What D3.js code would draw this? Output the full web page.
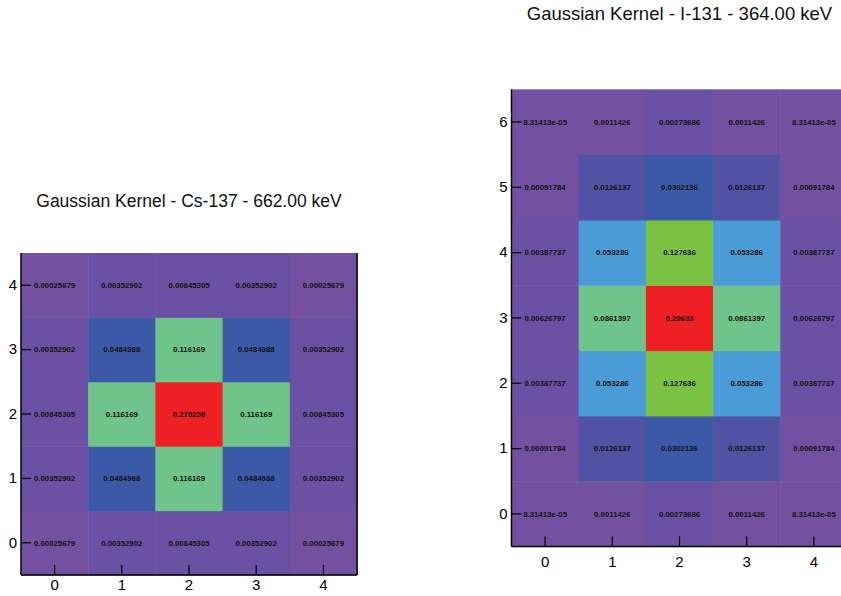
<!DOCTYPE html>
<html>
<head>
<meta charset="utf-8">
<script src="https://cdn.jsdelivr.net/npm/d3@7"></script>
<style>
  html, body { margin: 0; padding: 0; background: #fff; }
  svg { display: block; font-family: "Liberation Sans", Arial, sans-serif; }
</style>
</head>
<body>
<svg id="chart" width="841" height="596"></svg>
<script>
// ---- Data ----
const xCategories = [0, 1, 2, 3, 4];
const csYCategories = [0, 1, 2, 3, 4];
const iYCategories = [0, 1, 2, 3, 4, 5, 6];

// Cs-137 kernel, rows from y=0 (bottom) to y=4 (top)
const csRow0 = [0.00025679, 0.00352902, 0.00845305, 0.00352902, 0.00025679];
const csRow1 = [0.00352902, 0.0484988, 0.116169, 0.0484988, 0.00352902];
const csRow2 = [0.00845305, 0.116169, 0.278258, 0.116169, 0.00845305];
const csRow3 = [0.00352902, 0.0484988, 0.116169, 0.0484988, 0.00352902];
const csRow4 = [0.00025679, 0.00352902, 0.00845305, 0.00352902, 0.00025679];

// I-131 kernel, rows from y=0 (bottom) to y=6 (top)
const iRow0 = [8.31413e-05, 0.0011426, 0.00273686, 0.0011426, 8.31413e-05];
const iRow1 = [0.00091784, 0.0126137, 0.0302136, 0.0126137, 0.00091784];
const iRow2 = [0.00387737, 0.053286, 0.127636, 0.053286, 0.00387737];
const iRow3 = [0.00626797, 0.0861397, 0.20633, 0.0861397, 0.00626797];
const iRow4 = [0.00387737, 0.053286, 0.127636, 0.053286, 0.00387737];
const iRow5 = [0.00091784, 0.0126137, 0.0302136, 0.0126137, 0.00091784];
const iRow6 = [8.31413e-05, 0.0011426, 0.00273686, 0.0011426, 8.31413e-05];

const csTitle = "Gaussian Kernel - Cs-137 - 662.00 keV";
const iTitle = "Gaussian Kernel - I-131 - 364.00 keV";

// ---- Palette (discrete levels on value / max) ----
const levelThresholds = [0.01, 0.05, 0.1, 0.2, 0.3, 0.5, 0.7];
const levelColors = ["#7450a0", "#6a51a3", "#5052a3", "#3c59a8", "#4a9bd6", "#6ec48a", "#7cc242", "#ee2024"];

function fmtG(v) {
  let s;
  if (Math.abs(v) < 1e-4 && v !== 0) {
    s = v.toExponential(5);
    let [m, e] = s.split("e");
    if (m.includes(".")) m = m.replace(/0+$/, "").replace(/\.$/, "");
    const sign = e[0] === "-" ? "-" : "+";
    let digits = e.replace(/^[+-]/, "");
    if (digits.length < 2) digits = "0" + digits;
    return m + "e" + sign + digits;
  }
  s = v.toPrecision(6);
  if (s.includes(".")) s = s.replace(/0+$/, "").replace(/\.$/, "");
  return s;
}

const svg = d3.select("#chart");

function drawKernel(cfg) {
  const { rows, yCats, left, top, width, height, title, titleY, titleSize, xLabelPad } = cfg;
  const g = svg.append("g");
  const x = d3.scaleBand().domain(xCategories).range([left, left + width]).padding(0);
  const y = d3.scaleBand().domain(yCats).range([top + height, top]).padding(0);
  const all = rows.flat();
  const maxV = d3.max(all);
  const color = d3.scaleThreshold().domain(levelThresholds).range(levelColors);

  const cells = [];
  rows.forEach((row, yi) => row.forEach((v, xi) => cells.push({ x: xCategories[xi], y: yCats[yi], v })));

  g.selectAll("rect.cell").data(cells).join("rect")
    .attr("class", "cell")
    .attr("x", d => x(d.x))
    .attr("y", d => y(d.y))
    .attr("width", x.bandwidth() + 0.5)
    .attr("height", y.bandwidth() + 0.5)
    .attr("fill", d => color(d.v / maxV));

  // axes
  const yAxis = d3.axisLeft(y).tickSizeInner(-10).tickSizeOuter(0).tickPadding(4);
  const yg = g.append("g").attr("transform", `translate(${left},0)`).call(yAxis);
  yg.select(".domain").remove();
  yg.selectAll(".tick line").attr("stroke", "#000").attr("stroke-width", 1.2);
  yg.selectAll(".tick text").attr("font-size", 15).attr("fill", "#000")
    .attr("font-family", "'Liberation Sans', Arial, sans-serif");

  const xAxis = d3.axisBottom(x).tickSizeInner(-10).tickSizeOuter(0).tickPadding(xLabelPad);
  const xg = g.append("g").attr("transform", `translate(0,${top + height})`).call(xAxis);
  xg.select(".domain").remove();
  xg.selectAll(".tick line").attr("stroke", "#000").attr("stroke-width", 1.2);
  xg.selectAll(".tick text").attr("font-size", 15).attr("fill", "#000")
    .attr("font-family", "'Liberation Sans', Arial, sans-serif");

  // cell labels
  g.selectAll("text.val").data(cells).join("text")
    .attr("class", "val")
    .attr("x", d => x(d.x) + x.bandwidth() / 2)
    .attr("y", d => y(d.y) + y.bandwidth() / 2)
    .attr("dy", "0.35em")
    .attr("text-anchor", "middle")
    .attr("font-size", 7.8)
    .attr("font-weight", "bold")
    .attr("fill", "#111")
    .text(d => fmtG(d.v));

  // frame: left, bottom, right
  const fr = g.append("g").attr("stroke", "#000").attr("stroke-width", 1.5).attr("fill", "none");
  fr.append("line").attr("x1", left).attr("x2", left).attr("y1", top).attr("y2", top + height);
  fr.append("line").attr("x1", left).attr("x2", left + width).attr("y1", top + height).attr("y2", top + height);
  fr.append("line").attr("x1", left + width).attr("x2", left + width).attr("y1", top).attr("y2", top + height);

  // title
  g.append("text")
    .attr("x", left + width / 2)
    .attr("y", titleY)
    .attr("text-anchor", "middle")
    .attr("font-size", titleSize)
    .attr("fill", "#111")
    .text(title);
}

drawKernel({
  rows: [csRow0, csRow1, csRow2, csRow3, csRow4],
  yCats: csYCategories,
  left: 21, top: 253, width: 336, height: 322,
  title: csTitle, titleY: 207, titleSize: 17.5, xLabelPad: 4
});

drawKernel({
  rows: [iRow0, iRow1, iRow2, iRow3, iRow4, iRow5, iRow6],
  yCats: iYCategories,
  left: 511.5, top: 89.3, width: 336, height: 457.3,
  title: iTitle, titleY: 20, titleSize: 18.5, xLabelPad: 10
});
</script>
</body>
</html>
